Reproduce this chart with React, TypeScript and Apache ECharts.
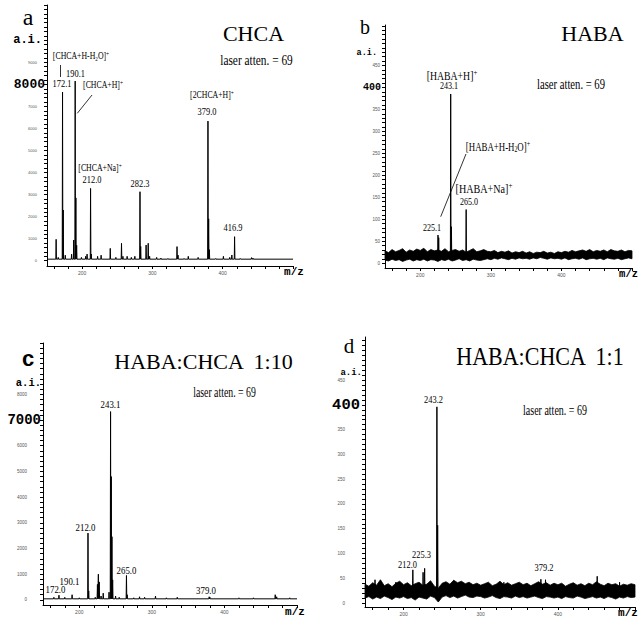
import React, { useEffect, useRef } from "react";
import * as echarts from "echarts";

const SERIF = "'Liberation Serif', 'Times New Roman', serif";
const MONO = "'Liberation Mono', 'Courier New', monospace";
const SANS = "'Liberation Sans', Arial, sans-serif";
const MZ_MIN = 150;
const MZ_MAX = 500;

// ---------- Panel a : CHCA ----------
const peakMzA = [163, 166, 172.1, 173.1, 176, 185, 188, 190.1, 191.1, 192.2, 199, 205, 207, 212.0, 213, 222, 227, 240, 248, 256, 258, 264, 270, 275, 282.3, 283.3, 291, 294, 296, 306, 312, 322, 335, 336.5, 345, 351, 365, 379.0, 380, 381, 390, 401, 410, 413, 416.9, 425, 441, 443, 455];
const peakIntA = [970, 150, 7650, 2300, 250, 300, 940, 8150, 2850, 700, 150, 200, 300, 3280, 300, 200, 250, 560, 150, 790, 200, 200, 150, 200, 3130, 650, 710, 790, 200, 150, 120, 100, 640, 250, 100, 200, 150, 6335, 1900, 500, 100, 200, 150, 260, 1090, 100, 140, 120, 80];
const baseA = 70;

// ---------- Panel b : HABA ----------
const peakMzB = [225.1, 226.1, 243.1, 244.1, 265.0];
const peakIntB = [64, 58, 385, 83, 122];

// ---------- Panel c : HABA:CHCA 1:10 ----------
const peakMzC = [165, 172.0, 180, 190.1, 200, 212.0, 213, 222, 225, 226.3, 227.5, 230, 233, 241, 243.1, 244.1, 245, 246, 250, 255, 265.0, 266, 275, 283, 290, 305, 320, 335, 379.0, 380, 420, 440, 470, 472, 490];
const peakIntC = [100, 180, 100, 200, 80, 2600, 350, 100, 600, 1000, 700, 150, 260, 300, 7330, 4800, 2460, 780, 150, 100, 950, 200, 80, 120, 100, 150, 80, 100, 120, 100, 80, 80, 200, 120, 80];
const baseC = 40;

// ---------- Panel d : HABA:CHCA 1:1 ----------
const peakMzD = [163, 190, 212.0, 225.3, 227.3, 243.2, 244.2, 265, 330, 378, 384, 451, 480];
const peakIntD = [47, 42, 67, 62, 70, 396, 157, 45, 42, 48, 47, 54, 42];

// ---------- noise band envelopes (b, d) ----------
const noiseMz = [150, 155, 160, 165, 170, 175, 180, 185, 190, 195, 200, 205, 210, 215, 220, 225, 230, 235, 240, 245, 250, 255, 260, 265, 270, 275, 280, 285, 290, 295, 300, 305, 310, 315, 320, 325, 330, 335, 340, 345, 350, 355, 360, 365, 370, 375, 380, 385, 390, 395, 400, 405, 410, 415, 420, 425, 430, 435, 440, 445, 450, 455, 460, 465, 470, 475, 480, 485, 490, 495, 500];
const noiseHiB = [28, 24, 31, 26, 29, 33, 25, 30, 27, 32, 29, 34, 26, 31, 28, 30, 27, 33, 26, 29, 31, 27, 30, 25, 29, 33, 26, 28, 31, 27, 26, 29, 24, 27, 25, 28, 23, 26, 24, 27, 23, 26, 22, 25, 24, 27, 23, 25, 22, 26, 24, 27, 25, 29, 26, 28, 30, 27, 31, 26, 29, 27, 30, 26, 31, 28, 27, 30, 26, 29, 28];
const noiseLoB = [7, 5, 9, 6, 8, 4, 7, 9, 5, 8, 6, 9, 5, 8, 7, 4, 8, 6, 9, 5, 7, 10, 6, 8, 5, 9, 7, 6, 8, 10, 8, 11, 9, 12, 10, 8, 11, 9, 12, 10, 11, 9, 12, 10, 13, 11, 9, 12, 10, 11, 9, 12, 8, 10, 11, 9, 12, 8, 10, 11, 9, 11, 8, 12, 10, 9, 11, 8, 10, 12, 10];
const noiseHiD = [38, 34, 41, 36, 47, 35, 39, 33, 40, 44, 37, 41, 35, 39, 42, 36, 38, 45, 34, 30, 40, 43, 38, 46, 41, 44, 39, 42, 37, 40, 36, 39, 42, 35, 38, 44, 37, 41, 36, 39, 42, 37, 40, 35, 39, 43, 38, 41, 36, 40, 37, 40, 34, 38, 41, 36, 39, 35, 40, 37, 43, 38, 35, 40, 37, 39, 34, 38, 36, 39, 37];
const noiseLoD = [10, 13, 8, 12, 9, 14, 11, 7, 12, 10, 13, 9, 11, 6, 12, 10, 8, 14, 11, 2, 12, 15, 11, 14, 10, 13, 16, 12, 11, 14, 13, 10, 12, 15, 11, 9, 13, 12, 10, 14, 11, 13, 10, 12, 14, 11, 9, 13, 12, 10, 12, 9, 13, 11, 10, 14, 12, 9, 11, 13, 10, 12, 9, 13, 11, 8, 12, 10, 13, 11, 12];

// ---------- axis labels ----------
const xLabels = [200, 300, 400];
const yLabelsA = [0, 1000, 2000, 3000, 4000, 5000, 6000, 7000, 8000, 9000, 10000];
const yLabelsB = [0, 50, 100, 150, 200, 250, 300, 350, 400, 450, 478];
const yLabelsC = [0, 1000, 2000, 3000, 4000, 5000, 6000, 7000, 8000, 8450];
const yLabelsD = [0, 50, 100, 150, 200, 250, 300, 350, 400, 450, 465];

const range = (a: number, b: number, s: number) => {
  const r: number[] = [];
  for (let v = a; v <= b + 1e-9; v += s) r.push(v);
  return r;
};

function spikeLine(mz: number[], h: number[], base: number, connect: boolean) {
  const idx = mz.map((_, i) => i).sort((p, q) => mz[p] - mz[q]);
  const out: any[] = [];
  if (connect) out.push([MZ_MIN, base]);
  idx.forEach((i) => {
    out.push([mz[i] - 0.45, base], [mz[i], h[i]], [mz[i] + 0.45, base]);
    if (!connect) out.push([mz[i] + 0.46, "-"]);
  });
  if (connect) out.push([MZ_MAX, base]);
  return out;
}

const grids = [
  { left: 47, top: 5, width: 246, height: 261 },
  { left: 385, top: 25, width: 247, height: 243 },
  { left: 43, top: 343, width: 254, height: 262 },
  { left: 365, top: 337, width: 270, height: 270 },
];

const xAxisDef = (i: number) => ({
  type: "value",
  gridIndex: i,
  min: MZ_MIN,
  max: MZ_MAX,
  axisLine: { show: true, onZero: false, lineStyle: { color: "#000", width: 1 } },
  axisTick: { show: true, customValues: range(160, 500, 20), length: 3, lineStyle: { color: "#000", width: 1 } },
  axisLabel: { customValues: xLabels, fontSize: 5, color: "#555", fontFamily: SANS, margin: 4 },
  splitLine: { show: false },
});

const yAxisDef = (
  i: number, min: number, max: number, labels: number[], ticks: number[],
  bigVal: number, aiVal: number,
  sz: { s: number; sp: number; b: number; bp: number; a: number; ap: number }
) => ({
  type: "value",
  gridIndex: i,
  min,
  max,
  axisLine: { show: true, onZero: false, lineStyle: { color: "#000", width: 1 } },
  axisTick: { show: true, customValues: ticks, length: 3, lineStyle: { color: "#000", width: 1 } },
  axisLabel: {
    customValues: labels,
    margin: 2,
    formatter: (v: number) =>
      v === aiVal ? "{ai|a.i.}" : v === bigVal ? "{big|" + v + "}" : "{s|" + v + "}",
    rich: {
      s: { fontSize: sz.s, color: "#555", fontFamily: SANS, padding: [0, sz.sp, 0, 0] },
      big: { fontSize: sz.b, color: "#000", fontFamily: MONO, fontWeight: "bold", padding: [0, sz.bp, 0, 0] },
      ai: { fontSize: sz.a, color: "#000", fontFamily: MONO, fontWeight: "bold", padding: [0, sz.ap, 0, 0] },
    },
  },
  splitLine: { show: false },
});

const lineSeries = (i: number, data: any[], z = 3) => ({
  type: "line",
  xAxisIndex: i,
  yAxisIndex: i,
  data,
  symbol: "none",
  showSymbol: false,
  connectNulls: false,
  silent: true,
  z,
  lineStyle: { color: "#000", width: 1 },
});

// noise band: polygon between the lower and upper envelopes, placed with the axes' scales
const bandSeries = (i: number, lo: number[], hi: number[]) => ({
  type: "custom",
  coordinateSystem: "cartesian2d",
  xAxisIndex: i,
  yAxisIndex: i,
  silent: true,
  z: 2,
  data: [[MZ_MIN, 0]],
  encode: { x: 0, y: 1 },
  renderItem: (_p: any, api: any) => {
    const top = noiseMz.map((m, k) => api.coord([m, hi[k]]));
    const bot = noiseMz.map((m, k) => api.coord([m, lo[k]])).reverse();
    return {
      type: "polygon",
      shape: { points: top.concat(bot) },
      style: { fill: "#000", stroke: "#000", lineWidth: 0.8 },
    };
  },
});

const txt = (x: number, y: number, text: string, size: number, o: any = {}) => ({
  type: "text",
  x,
  y,
  scaleX: o.sx ?? 1,
  scaleY: o.sy ?? 1,
  silent: true,
  z: 10,
  style: {
    text,
    fontSize: size,
    fontFamily: o.ff ?? SERIF,
    fontWeight: o.fw ?? "normal",
    fill: "#000",
    align: o.align ?? "center",
    verticalAlign: "middle",
    rich: o.rich,
  },
});

const chemRich = (size: number) => ({
  n: { fontSize: size, fontFamily: SERIF, fill: "#000", lineHeight: size * 1.2 },
  b: { fontSize: size * 0.65, fontFamily: SERIF, fill: "#000", verticalAlign: "bottom", lineHeight: size * 0.65 },
  p: { fontSize: size * 0.7, fontFamily: SERIF, fill: "#000", verticalAlign: "top", lineHeight: size * 0.7 },
});

const seg = (x1: number, y1: number, x2: number, y2: number) => ({
  type: "line",
  silent: true,
  z: 10,
  shape: { x1, y1, x2, y2 },
  style: { stroke: "#000", lineWidth: 0.8 },
});

export default function App() {
  const ref = useRef<HTMLDivElement>(null);
  useEffect(() => {
    if (!ref.current) return;
    const chart = echarts.init(ref.current, undefined, { renderer: "svg" });
    const option: any = {
      animation: false,
      backgroundColor: "#fff",
      grid: grids,
      xAxis: [0, 1, 2, 3].map(xAxisDef),
      yAxis: [
        yAxisDef(0, -240, 11600, yLabelsA, range(0, 11600, 200), 8000, 10000, { s: 4, sp: 8, b: 13, bp: 0, a: 12, ap: 3 }),
        yAxisDef(1, -11, 542, yLabelsB, range(0, 540, 10), 400, 478, { s: 4.5, sp: 3, b: 10, bp: 2, a: 8.5, ap: 6 }),
        yAxisDef(2, -200, 10000, yLabelsC, range(0, 10000, 200), 7000, 8450, { s: 4.5, sp: 14, b: 14, bp: 0, a: 10.5, ap: 0 }),
        yAxisDef(3, -8, 537, yLabelsD, range(0, 530, 10), 400, 465, { s: 4.5, sp: 18, b: 15.5, bp: 3, a: 9, ap: 1 }),
      ],
      series: [
        lineSeries(0, spikeLine(peakMzA, peakIntA, baseA, true)),
        bandSeries(1, noiseLoB, noiseHiB),
        lineSeries(1, spikeLine(peakMzB, peakIntB, 18, false)),
        lineSeries(2, spikeLine(peakMzC, peakIntC, baseC, true)),
        bandSeries(3, noiseLoD, noiseHiD),
        lineSeries(3, spikeLine(peakMzD, peakIntD, 24, false)),
      ],
      graphic: [
        // panel a
        txt(28, 17, "a", 24),
        txt(253.5, 33.4, "CHCA", 22),
        txt(256.5, 60.8, "laser atten. = 69", 14, { sx: 0.81 }),
        txt(81, 56, "{n|[CHCA+H-H}{b|2}{n|O]}{p|+}", 10, { sx: 0.78, rich: chemRich(10) }),
        txt(62, 83.5, "172.1", 10.5, { sx: 0.8 }),
        txt(75.5, 73.5, "190.1", 10.5, { sx: 0.8 }),
        txt(103, 84.5, "{n|[CHCA+H]}{p|+}", 10, { sx: 0.78, rich: chemRich(10) }),
        txt(100, 167.5, "{n|[CHCA+Na]}{p|+}", 10, { sx: 0.78, rich: chemRich(10) }),
        txt(92, 179.5, "212.0", 10.5, { sx: 0.8 }),
        txt(140, 184, "282.3", 10.5, { sx: 0.8 }),
        txt(212, 94.5, "{n|[2CHCA+H]}{p|+}", 10, { sx: 0.78, rich: chemRich(10) }),
        txt(207, 112, "379.0", 10.5, { sx: 0.8 }),
        txt(233, 228, "416.9", 10.5, { sx: 0.8 }),
        seg(60.5, 65, 60.5, 77),
        seg(92, 95, 77.3, 113.3),
        txt(294, 272, "m/z", 11, { ff: MONO, fw: "bold" }),
        // panel b
        txt(365, 27, "b", 20),
        txt(592.5, 33.4, "HABA", 22),
        txt(571, 84, "laser atten. = 69", 14, { sx: 0.76 }),
        txt(452, 75, "{n|[HABA+H]}{p|+}", 13, { sx: 0.75, rich: chemRich(13) }),
        txt(449, 85.5, "243.1", 9.5, { sx: 0.85 }),
        txt(498, 146, "{n|[HABA+H-H}{b|2}{n|O]}{p|+}", 13, { sx: 0.68, rich: chemRich(13) }),
        seg(466, 154, 440.7, 216.7),
        txt(484, 189, "{n|[HABA+Na]}{p|+}", 13, { sx: 0.78, rich: chemRich(13) }),
        txt(469, 202, "265.0", 9.5, { sx: 0.85 }),
        txt(432, 227.5, "225.1", 9.5, { sx: 0.85 }),
        txt(638, 274, "m/z", 10.5, { ff: MONO, fw: "bold", align: "right" }),
        // panel c
        txt(28, 358.4, "c", 22, { ff: SANS, fw: "bold" }),
        txt(203.5, 361.4, "HABA:CHCA  1:10", 22),
        txt(224.5, 392, "laser atten. = 69", 14, { sx: 0.7 }),
        txt(110.5, 404.5, "243.1", 11, { sx: 0.8 }),
        txt(85.5, 527.5, "212.0", 11, { sx: 0.8 }),
        txt(126.5, 570, "265.0", 11, { sx: 0.8 }),
        txt(69.5, 581, "190.1", 11, { sx: 0.8 }),
        txt(55.5, 589.5, "172.0", 11, { sx: 0.8 }),
        txt(206, 590.5, "379.0", 11, { sx: 0.8 }),
        txt(295, 612, "m/z", 11, { ff: MONO, fw: "bold" }),
        // panel d
        txt(349, 345.7, "d", 21),
        txt(540, 356.4, "HABA:CHCA  1:1", 22, { sy: 1.1 }),
        txt(555, 410.5, "laser atten. = 69", 14, { sx: 0.715 }),
        txt(433.5, 400, "243.2", 10.5, { sx: 0.8 }),
        txt(421.5, 555, "225.3", 10.5, { sx: 0.8 }),
        txt(407.5, 565, "212.0", 10.5, { sx: 0.8 }),
        txt(544, 567.5, "379.2", 10.5, { sx: 0.8 }),
        txt(628, 613, "m/z", 11, { ff: MONO, fw: "bold" }),
      ],
    };
    chart.setOption(option);
    return () => chart.dispose();
  }, []);
  return (
    <div
      ref={ref}
      style={{ position: "absolute", left: 0, top: 0, width: 640, height: 624, background: "#fff" }}
    />
  );
}
